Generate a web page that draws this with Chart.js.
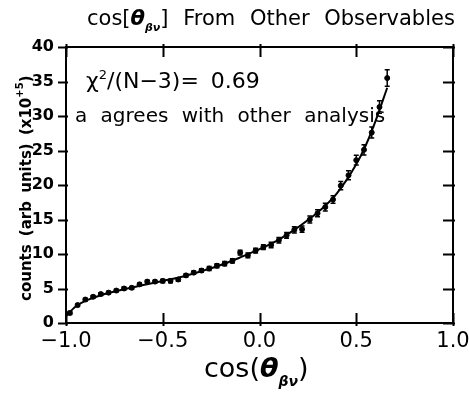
<!DOCTYPE html>
<html>
<head>
<meta charset="utf-8">
<script src="https://cdn.jsdelivr.net/npm/chart.js@4.4.0/dist/chart.umd.min.js"></script>
<style>
  html, body { margin: 0; padding: 0; background: #fff; }
  #wrap { width: 469px; height: 393px; }
</style>
</head>
<body>
<div id="wrap"><canvas id="c" width="469" height="393"></canvas></div>
<script>
// measured points: cos(theta_beta_nu) vs counts (x10^5)
const cosVals = [-0.98, -0.94, -0.90, -0.86, -0.82, -0.78, -0.74, -0.70, -0.66, -0.62,
  -0.58, -0.54, -0.50, -0.46, -0.42, -0.38, -0.34, -0.30, -0.26, -0.22,
  -0.18, -0.14, -0.10, -0.06, -0.02, 0.02, 0.06, 0.10, 0.14, 0.18,
  0.22, 0.26, 0.30, 0.34, 0.38, 0.42, 0.46, 0.50, 0.54, 0.58, 0.62, 0.66];
const counts = [1.45, 2.6, 3.4, 3.8, 4.2, 4.4, 4.7, 5.0, 5.1, 5.6,
  6.0, 6.0, 6.1, 6.1, 6.3, 6.9, 7.3, 7.6, 7.9, 8.3,
  8.6, 9.0, 10.2, 9.8, 10.5, 11.0, 11.3, 12.0, 12.7, 13.5,
  13.6, 15.0, 15.9, 16.8, 17.9, 19.9, 21.4, 23.6, 25.1, 27.6, 31.3, 35.5];
const errs = [0.2, 0.2, 0.2, 0.2, 0.2, 0.2, 0.2, 0.2, 0.2, 0.2,
  0.2, 0.2, 0.25, 0.25, 0.25, 0.25, 0.25, 0.25, 0.3, 0.3,
  0.3, 0.3, 0.35, 0.35, 0.35, 0.35, 0.4, 0.4, 0.4, 0.45,
  0.45, 0.5, 0.5, 0.55, 0.55, 0.6, 0.65, 0.7, 0.75, 0.8, 0.9, 1.2];

// fitted curve
const fitX = [-1.0, -0.95, -0.9, -0.8, -0.7, -0.6, -0.5, -0.4, -0.3, -0.2,
  -0.1, 0.0, 0.1, 0.2, 0.3, 0.4, 0.5, 0.55, 0.6, 0.66];
const fitY = [1.0, 2.4, 3.2, 4.2, 4.9, 5.5, 6.1, 6.7, 7.5, 8.4,
  9.5, 10.7, 12.1, 13.9, 16.0, 18.8, 23.0, 25.8, 29.3, 34.1];

const xTicks = [-1.0, -0.5, 0.0, 0.5, 1.0];
const yTicks = [0, 5, 10, 15, 20, 25, 30, 35, 40];

const FONT = '"DejaVu Sans", sans-serif';

// draw a run of text pieces (for sub/superscripts)
function richText(ctx, x, y, parts) {
  let cx = x;
  parts.forEach(p => {
    ctx.font = p.font;
    ctx.fillText(p.t, cx, y + (p.dy || 0));
    cx += ctx.measureText(p.t).width + (p.gap || 0);
  });
}

const framePlugin = {
  id: 'frame',
  afterDatasetsDraw(chart) {
    const ctx = chart.ctx;
    const a = chart.chartArea;
    const xs = chart.scales.x, ys = chart.scales.y;
    ctx.save();
    ctx.strokeStyle = '#000';
    ctx.fillStyle = '#000';

    // error bars
    ctx.lineWidth = 1.5;
    cosVals.forEach((c, i) => {
      const px = xs.getPixelForValue(c);
      const top = ys.getPixelForValue(counts[i] + errs[i]);
      const bot = ys.getPixelForValue(counts[i] - errs[i]);
      ctx.beginPath();
      ctx.moveTo(px, top); ctx.lineTo(px, bot);
      ctx.moveTo(px - 2.5, top); ctx.lineTo(px + 2.5, top);
      ctx.moveTo(px - 2.5, bot); ctx.lineTo(px + 2.5, bot);
      ctx.stroke();
    });

    // frame
    ctx.lineWidth = 2;
    ctx.strokeRect(a.left, a.top, a.right - a.left, a.bottom - a.top);

    // ticks
    ctx.beginPath();
    xTicks.forEach(v => {
      const px = Math.round(xs.getPixelForValue(v)) + 0.5;
      ctx.moveTo(px, a.bottom + 3); ctx.lineTo(px, a.bottom - 10);
      ctx.moveTo(px, a.top - 3); ctx.lineTo(px, a.top + 10);
    });
    yTicks.forEach(v => {
      const py = Math.round(ys.getPixelForValue(v)) + 0.5;
      ctx.moveTo(a.left - 8, py); ctx.lineTo(a.left + 2, py);
      ctx.moveTo(a.right - 10, py); ctx.lineTo(a.right + 2, py);
    });
    ctx.stroke();

    ctx.textBaseline = 'alphabetic';

    // title
    ctx.wordSpacing = '8px';
    richText(ctx, 87, 25, [
      { t: 'cos[', font: '21px ' + FONT },
      { t: 'θ', font: 'italic bold 21px ' + FONT },
      { t: 'βν', font: 'italic bold 11px ' + FONT, dy: 6 },
      { t: '] From Other Observables', font: '21px ' + FONT }
    ]);

    // annotations
    ctx.wordSpacing = '5px';
    richText(ctx, 86, 88, [
      { t: 'χ', font: '22px ' + FONT },
      { t: '2', font: '13px ' + FONT, dy: -9 },
      { t: '/(N−3)= 0.69', font: '22px ' + FONT }
    ]);
    ctx.wordSpacing = '7px';
    ctx.font = '20px ' + FONT;
    ctx.fillText('a agrees with other analysis', 75, 122);
    ctx.wordSpacing = '0px';

    // x title
    richText(ctx, 204, 377, [
      { t: 'cos(', font: '27px ' + FONT },
      { t: 'θ', font: 'italic bold 27px ' + FONT },
      { t: 'βν', font: 'italic bold 14px ' + FONT, dy: 9 },
      { t: ')', font: '27px ' + FONT }
    ]);

    // y title (rotated)
    ctx.translate(31, 301);
    ctx.rotate(-Math.PI / 2);
    ctx.wordSpacing = '3px';
    richText(ctx, 0, 0, [
      { t: 'counts (arb units) (x10', font: 'bold 15px ' + FONT },
      { t: '+5', font: 'bold 10px ' + FONT, dy: -8 },
      { t: ')', font: 'bold 15px ' + FONT }
    ]);
    ctx.restore();
  }
};

new Chart(document.getElementById('c'), {
  type: 'scatter',
  data: {
    datasets: [
      {
        label: 'data',
        data: cosVals.map((c, i) => ({ x: c, y: counts[i] })),
        backgroundColor: '#000',
        borderColor: '#000',
        pointRadius: 2.5,
        showLine: false
      },
      {
        label: 'fit',
        data: fitX.map((c, i) => ({ x: c, y: fitY[i] })),
        borderColor: '#000',
        borderWidth: 2,
        pointRadius: 0,
        showLine: true,
        cubicInterpolationMode: 'monotone'
      }
    ]
  },
  options: {
    responsive: false,
    animation: false,
    layout: { padding: { top: 47, right: 16, left: 0, bottom: 0 } },
    plugins: { legend: { display: false }, tooltip: { enabled: false } },
    scales: {
      x: {
        type: 'linear', min: -1, max: 1,
        afterFit: s => { s.height = 70; s.paddingLeft = 0; s.paddingRight = 0; },
        afterBuildTicks: s => { s.ticks = xTicks.map(v => ({ value: v })); },
        grid: { display: false, drawTicks: false },
        border: { display: false },
        ticks: {
          color: '#000', padding: 6, maxRotation: 0,
          font: { family: FONT, size: 21 },
          callback: v => (v < 0 ? '−' : '') + Math.abs(v).toFixed(1)
        }
      },
      y: {
        type: 'linear', min: 0, max: 40,
        afterFit: s => { s.width = 66; s.paddingTop = 0; s.paddingBottom = 0; },
        afterBuildTicks: s => { s.ticks = yTicks.map(v => ({ value: v })); },
        grid: { display: false, drawTicks: false },
        border: { display: false },
        ticks: {
          color: '#000', padding: 12,
          font: { family: FONT, size: 16, weight: 'bold' }
        }
      }
    }
  },
  plugins: [framePlugin]
});
</script>
</body>
</html>
